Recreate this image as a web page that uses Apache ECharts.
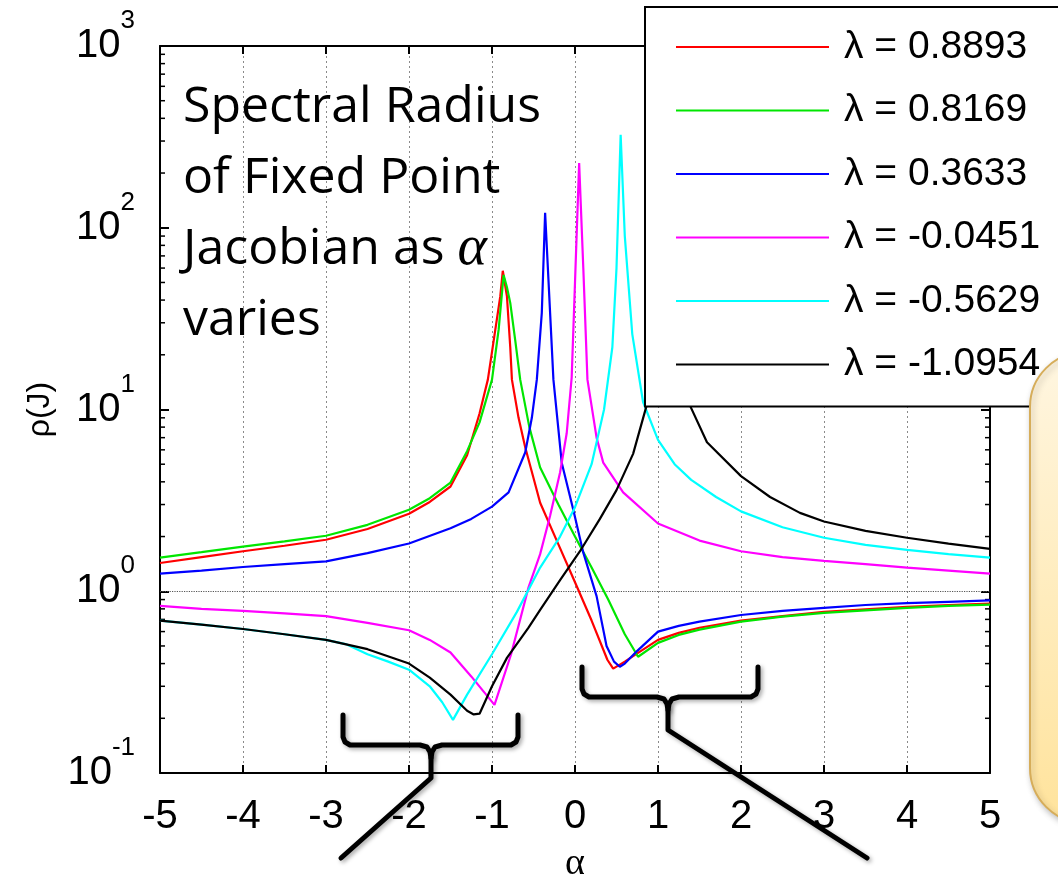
<!DOCTYPE html>
<html>
<head>
<meta charset="utf-8">
<script src="https://cdn.jsdelivr.net/npm/echarts@6/dist/echarts.min.js"></script>
<style>
html, body { margin: 0; padding: 0; background: #fff; }
#chart { width: 1058px; height: 884px; }
</style>
</head>
<body>
<div id="chart"></div>
<script>
// 曲线数据
var seriesNames = ['λ = 0.8893', 'λ = 0.8169', 'λ = 0.3633', 'λ = -0.0451', 'λ = -0.5629', 'λ = -1.0954'];
var seriesColors = ['#ff0000', '#00e600', '#0000ff', '#ff00ff', '#00ffff', '#000000'];

var redAlpha = [-5, -4.5, -4, -3.5, -3, -2.5, -2, -1.75, -1.5, -1.3, -1.15, -1.05, -0.96, -0.9, -0.87, -0.82, -0.78, -0.76, -0.68, -0.6, -0.5, -0.42, -0.2, 0, 0.2, 0.39, 0.46, 0.6, 0.75, 1, 1.25, 1.5, 2, 2.5, 3, 3.5, 4, 4.5, 5];
var redRho = [1.43, 1.54, 1.66, 1.78, 1.92, 2.2, 2.67, 3.1, 3.77, 5.6, 9.5, 14.6, 27.5, 42, 58, 42, 22, 14.6, 9.0, 6.2, 4.2, 3.07, 1.81, 1.12, 0.69, 0.42, 0.375, 0.41, 0.455, 0.54, 0.59, 0.63, 0.69, 0.73, 0.77, 0.795, 0.82, 0.84, 0.855];

var greenAlpha = [-5, -4.5, -4, -3.5, -3, -2.5, -2, -1.75, -1.5, -1.3, -1.15, -1.0, -0.92, -0.86, -0.82, -0.78, -0.72, -0.66, -0.55, -0.42, -0.2, 0, 0.2, 0.4, 0.6, 0.76, 1.0, 1.25, 1.5, 2, 2.5, 3, 3.5, 4, 4.5, 5];
var greenRho = [1.53, 1.64, 1.76, 1.88, 2.02, 2.32, 2.81, 3.25, 3.96, 5.9, 8.5, 14.6, 27.5, 55, 47, 38.6, 24, 14.6, 8.0, 4.8, 3.0, 2.0, 1.35, 0.9, 0.58, 0.436, 0.52, 0.575, 0.615, 0.68, 0.725, 0.76, 0.785, 0.81, 0.83, 0.845];

var blueAlpha = [-5, -4.5, -4, -3.5, -3, -2.5, -2, -1.5, -1.25, -1, -0.8, -0.6, -0.52, -0.46, -0.4, -0.36, -0.32, -0.26, -0.16, -0.02, 0.1, 0.26, 0.38, 0.47, 0.54, 0.6, 0.75, 1, 1.25, 1.5, 2, 2.5, 3, 3.5, 4, 4.5, 5];
var blueRho = [1.25, 1.3, 1.36, 1.41, 1.46, 1.62, 1.83, 2.22, 2.5, 2.92, 3.5, 5.8, 9.0, 14.6, 34, 121, 52, 14.6, 5.1, 2.8, 1.63, 0.94, 0.5, 0.41, 0.384, 0.4, 0.47, 0.6, 0.645, 0.68, 0.74, 0.78, 0.81, 0.84, 0.86, 0.875, 0.89];

var magentaAlpha = [-5, -4.5, -4, -3.5, -3, -2.5, -2, -1.75, -1.5, -1.25, -0.97, -0.77, -0.56, -0.42, -0.3, -0.18, -0.1, -0.04, 0, 0.05, 0.1, 0.15, 0.26, 0.34, 0.58, 1.0, 1.5, 2, 2.5, 3, 3.5, 4, 4.5, 5];
var magentaRho = [0.83, 0.8, 0.78, 0.755, 0.73, 0.67, 0.61, 0.54, 0.46, 0.34, 0.237, 0.45, 1.05, 1.6, 2.6, 4.5, 7.4, 15, 50, 227, 60, 14.6, 7.0, 5.1, 3.5, 2.36, 1.9, 1.66, 1.54, 1.47, 1.41, 1.35, 1.3, 1.25];

var cyanAlpha = [-5, -4.5, -4, -3.5, -3, -2.75, -2.5, -2.25, -2, -1.75, -1.6, -1.47, -1.3, -1.0, -0.7, -0.42, -0.18, 0, 0.2, 0.35, 0.45, 0.5, 0.55, 0.6, 0.69, 0.82, 1.0, 1.2, 1.4, 1.7, 2, 2.5, 3, 3.5, 4, 4.5, 5];
var cyanRho = [0.69, 0.655, 0.62, 0.58, 0.54, 0.51, 0.45, 0.41, 0.37, 0.3, 0.245, 0.196, 0.27, 0.45, 0.77, 1.35, 2.0, 2.9, 5.0, 10, 22, 60, 325, 90, 26, 11, 6.8, 5.0, 4.1, 3.3, 2.75, 2.25, 1.97, 1.8, 1.69, 1.6, 1.53];

var blackAlpha = [-5, -4.5, -4, -3.5, -3, -2.5, -2, -1.75, -1.5, -1.3, -1.22, -1.15, -1.0, -0.82, -0.56, -0.42, -0.18, 0.06, 0.3, 0.5, 0.7, 0.86, 1.0, 1.095, 1.2, 1.39, 1.59, 2, 2.35, 2.71, 3, 3.5, 4, 4.5, 5];
var blackRho = [0.69, 0.655, 0.62, 0.58, 0.54, 0.48, 0.4, 0.335, 0.27, 0.22, 0.21, 0.212, 0.3, 0.43, 0.63, 0.79, 1.15, 1.66, 2.5, 3.6, 5.7, 10.4, 28, 400, 28, 10.4, 6.6, 4.3, 3.3, 2.7, 2.42, 2.15, 1.97, 1.83, 1.71];

var alphaList = [redAlpha, greenAlpha, blueAlpha, magentaAlpha, cyanAlpha, blackAlpha];
var rhoList = [redRho, greenRho, blueRho, magentaRho, cyanRho, blackRho];

// 坐标轴
var xMin = -5, xMax = 5;
var yMin = 0.1, yMax = 1000;
var unityLine = [1];
var yMinorTicks = [0.2, 0.3, 0.4, 0.5, 0.6, 0.7, 0.8, 0.9,
                   2, 3, 4, 5, 6, 7, 8, 9,
                   20, 30, 40, 50, 60, 70, 80, 90,
                   200, 300, 400, 500, 600, 700, 800, 900];

var sansFont = '"Liberation Sans", Arial, sans-serif';

function pairUp(xs, ys) {
	var out = [];
	for (var i = 0; i < xs.length; i++) {
		out.push([xs[i], ys[i]]);
	}
	return out;
}

var series = [];
for (var i = 0; i < seriesNames.length; i++) {
	var s = {
		name: seriesNames[i],
		type: 'line',
		data: pairUp(alphaList[i], rhoList[i]),
		symbol: 'none',
		showSymbol: false,
		smooth: false,
		color: seriesColors[i],
		lineStyle: { color: seriesColors[i], width: 2.2 },
		z: 3
	};
	if (i == 0) {
		s.markLine = {
			silent: true,
			symbol: ['none', 'none'],
			label: { show: false },
			lineStyle: { type: 'dotted', color: '#555', width: 1.2 },
			data: unityLine.map(function (v) { return { yAxis: v }; }),
			z: 1
		};
	}
	series.push(s);
}

// 对数副刻度 (放在图例下面)
series.push({
	type: 'custom',
	silent: true,
	clip: false,
	z: 2,
	data: yMinorTicks.map(function (v) { return [xMin, v]; }),
	renderItem: function (params, api) {
		var v = api.value(1);
		var l = api.coord([xMin, v]);
		var r = api.coord([xMax, v]);
		return {
			type: 'group',
			children: [
				{ type: 'line', shape: { x1: l[0], y1: l[1], x2: l[0] + 5, y2: l[1] }, style: { stroke: '#000', lineWidth: 1.5 } },
				{ type: 'line', shape: { x1: r[0] - 5, y1: r[1], x2: r[0], y2: r[1] }, style: { stroke: '#000', lineWidth: 1.5 } }
			]
		};
	}
});

function expLabel(v) {
	var e = Math.round(Math.log(v) / Math.LN10);
	return '{b|10}{s|' + e + '}';
}

var labelRich = {
	b: { fontSize: 40, fontFamily: sansFont, color: '#000', lineHeight: 76 },
	s: { fontSize: 26, fontFamily: sansFont, color: '#000', lineHeight: 26, verticalAlign: 'top' }
};

var bracketStyle = { fill: null, stroke: '#000', lineWidth: 5, lineJoin: 'round', lineCap: 'round', shadowBlur: 4, shadowOffsetX: 2, shadowOffsetY: 2, shadowColor: 'rgba(0,0,0,0.35)' };

var chart = echarts.init(document.getElementById('chart'));
var option = {
	animation: false,
	backgroundColor: '#fff',
	grid: { left: 160, top: 46, right: 68, bottom: 111, outerBoundsMode: 'none' },
	legend: {
		data: seriesNames,
		left: 645,
		top: 7,
		z: 10,
		orient: 'vertical',
		selectedMode: false,
		backgroundColor: '#fff',
		borderColor: '#000',
		borderWidth: 2,
		borderRadius: 0,
		padding: [18, 60, 20, 30],
		itemWidth: 153,
		itemHeight: 20,
		itemGap: 19.5,
		itemStyle: { opacity: 0 },
		textStyle: { fontSize: 39, fontFamily: sansFont, color: '#000', lineHeight: 44, padding: [0, 0, 0, 10] }
	},
	xAxis: [{
		type: 'value',
		min: xMin,
		max: xMax,
		interval: 1,
		position: 'bottom',
		name: 'α',
		nameLocation: 'middle',
		nameGap: 72,
		nameTextStyle: { fontSize: 38, fontFamily: '"Liberation Serif", serif', color: '#000' },
		axisLine: { show: true, onZero: false, lineStyle: { color: '#000', width: 2 } },
		axisTick: { show: true, inside: true, length: 8, lineStyle: { color: '#000', width: 2 } },
		axisLabel: { fontSize: 40, fontFamily: sansFont, color: '#000', margin: 24, showMinLabel: true, showMaxLabel: true },
		splitLine: { show: true, showMinLine: false, showMaxLine: false, lineStyle: { type: [2, 3], color: '#8a8a8a', width: 1 } }
	}, {
		type: 'value',
		min: xMin,
		max: xMax,
		interval: 1,
		position: 'top',
		axisLine: { show: true, onZero: false, lineStyle: { color: '#000', width: 2 } },
		axisTick: { show: true, inside: true, length: 8, lineStyle: { color: '#000', width: 2 } },
		axisLabel: { show: false },
		splitLine: { show: false }
	}],
	yAxis: [{
		type: 'log',
		logBase: 10,
		min: yMin,
		max: yMax,
		position: 'left',
		name: 'ρ(J)',
		nameLocation: 'middle',
		nameRotate: 90,
		nameGap: 104,
		nameTextStyle: { fontSize: 32, fontFamily: sansFont, color: '#000' },
		axisLine: { show: true, onZero: false, lineStyle: { color: '#000', width: 2 } },
		axisTick: { show: true, inside: true, length: 9, lineStyle: { color: '#000', width: 2 } },
		axisLabel: { formatter: expLabel, rich: labelRich, margin: 25, showMinLabel: true, showMaxLabel: true },
		splitLine: { show: false }
	}, {
		type: 'log',
		logBase: 10,
		min: yMin,
		max: yMax,
		position: 'right',
		axisLine: { show: true, onZero: false, lineStyle: { color: '#000', width: 2 } },
		axisTick: { show: true, inside: true, length: 9, lineStyle: { color: '#000', width: 2 } },
		axisLabel: { show: false },
		splitLine: { show: false }
	}],
	series: series,
	graphic: [
		{
			type: 'text',
			x: 183,
			y: 72,
			z: 50,
			style: {
				text: 'Spectral Radius\nof Fixed Point\nJacobian as {a|α}\nvaries',
				fontSize: 50,
				fontFamily: '"Open Sans", "Noto Sans", sans-serif',
				fill: '#000',
				lineHeight: 71,
				verticalAlign: 'top',
				rich: {
					a: { fontSize: 56, fontFamily: '"Liberation Serif", serif', fontStyle: 'italic', lineHeight: 71 }
				}
			}
		},
		{
			type: 'rect',
			z: 100,
			shape: { x: 1030, y: 352, width: 120, height: 471, r: 55 },
			style: {
				fill: { type: 'linear', x: 0, y: 0, x2: 0, y2: 1, colorStops: [{ offset: 0, color: '#fff6e1' }, { offset: 1, color: '#ffe39c' }] },
				stroke: '#d6ad5a',
				lineWidth: 2,
				shadowBlur: 6,
				shadowOffsetX: 2,
				shadowOffsetY: 3,
				shadowColor: 'rgba(0,0,0,0.25)'
			}
		},
		{
			type: 'polyline', z: 60, style: bracketStyle,
			shape: { points: [[343, 715], [343, 737], [345, 742], [350, 745], [420, 745], [427, 747], [430, 752], [431, 758], [431, 778], [341, 858]] }
		},
		{
			type: 'polyline', z: 60, style: bracketStyle,
			shape: { points: [[518, 715], [518, 737], [516, 742], [511, 745], [442, 745], [435, 747], [432, 752], [431, 758]] }
		},
		{
			type: 'polyline', z: 60, style: bracketStyle,
			shape: { points: [[582, 667], [582, 689], [584, 694], [589, 697], [657, 697], [664, 699], [667, 704], [668, 710], [668, 730], [867, 858]] }
		},
		{
			type: 'polyline', z: 60, style: bracketStyle,
			shape: { points: [[758, 667], [758, 689], [756, 694], [751, 697], [679, 697], [672, 699], [669, 704], [668, 710]] }
		}
	]
};
chart.setOption(option);
</script>
</body>
</html>
